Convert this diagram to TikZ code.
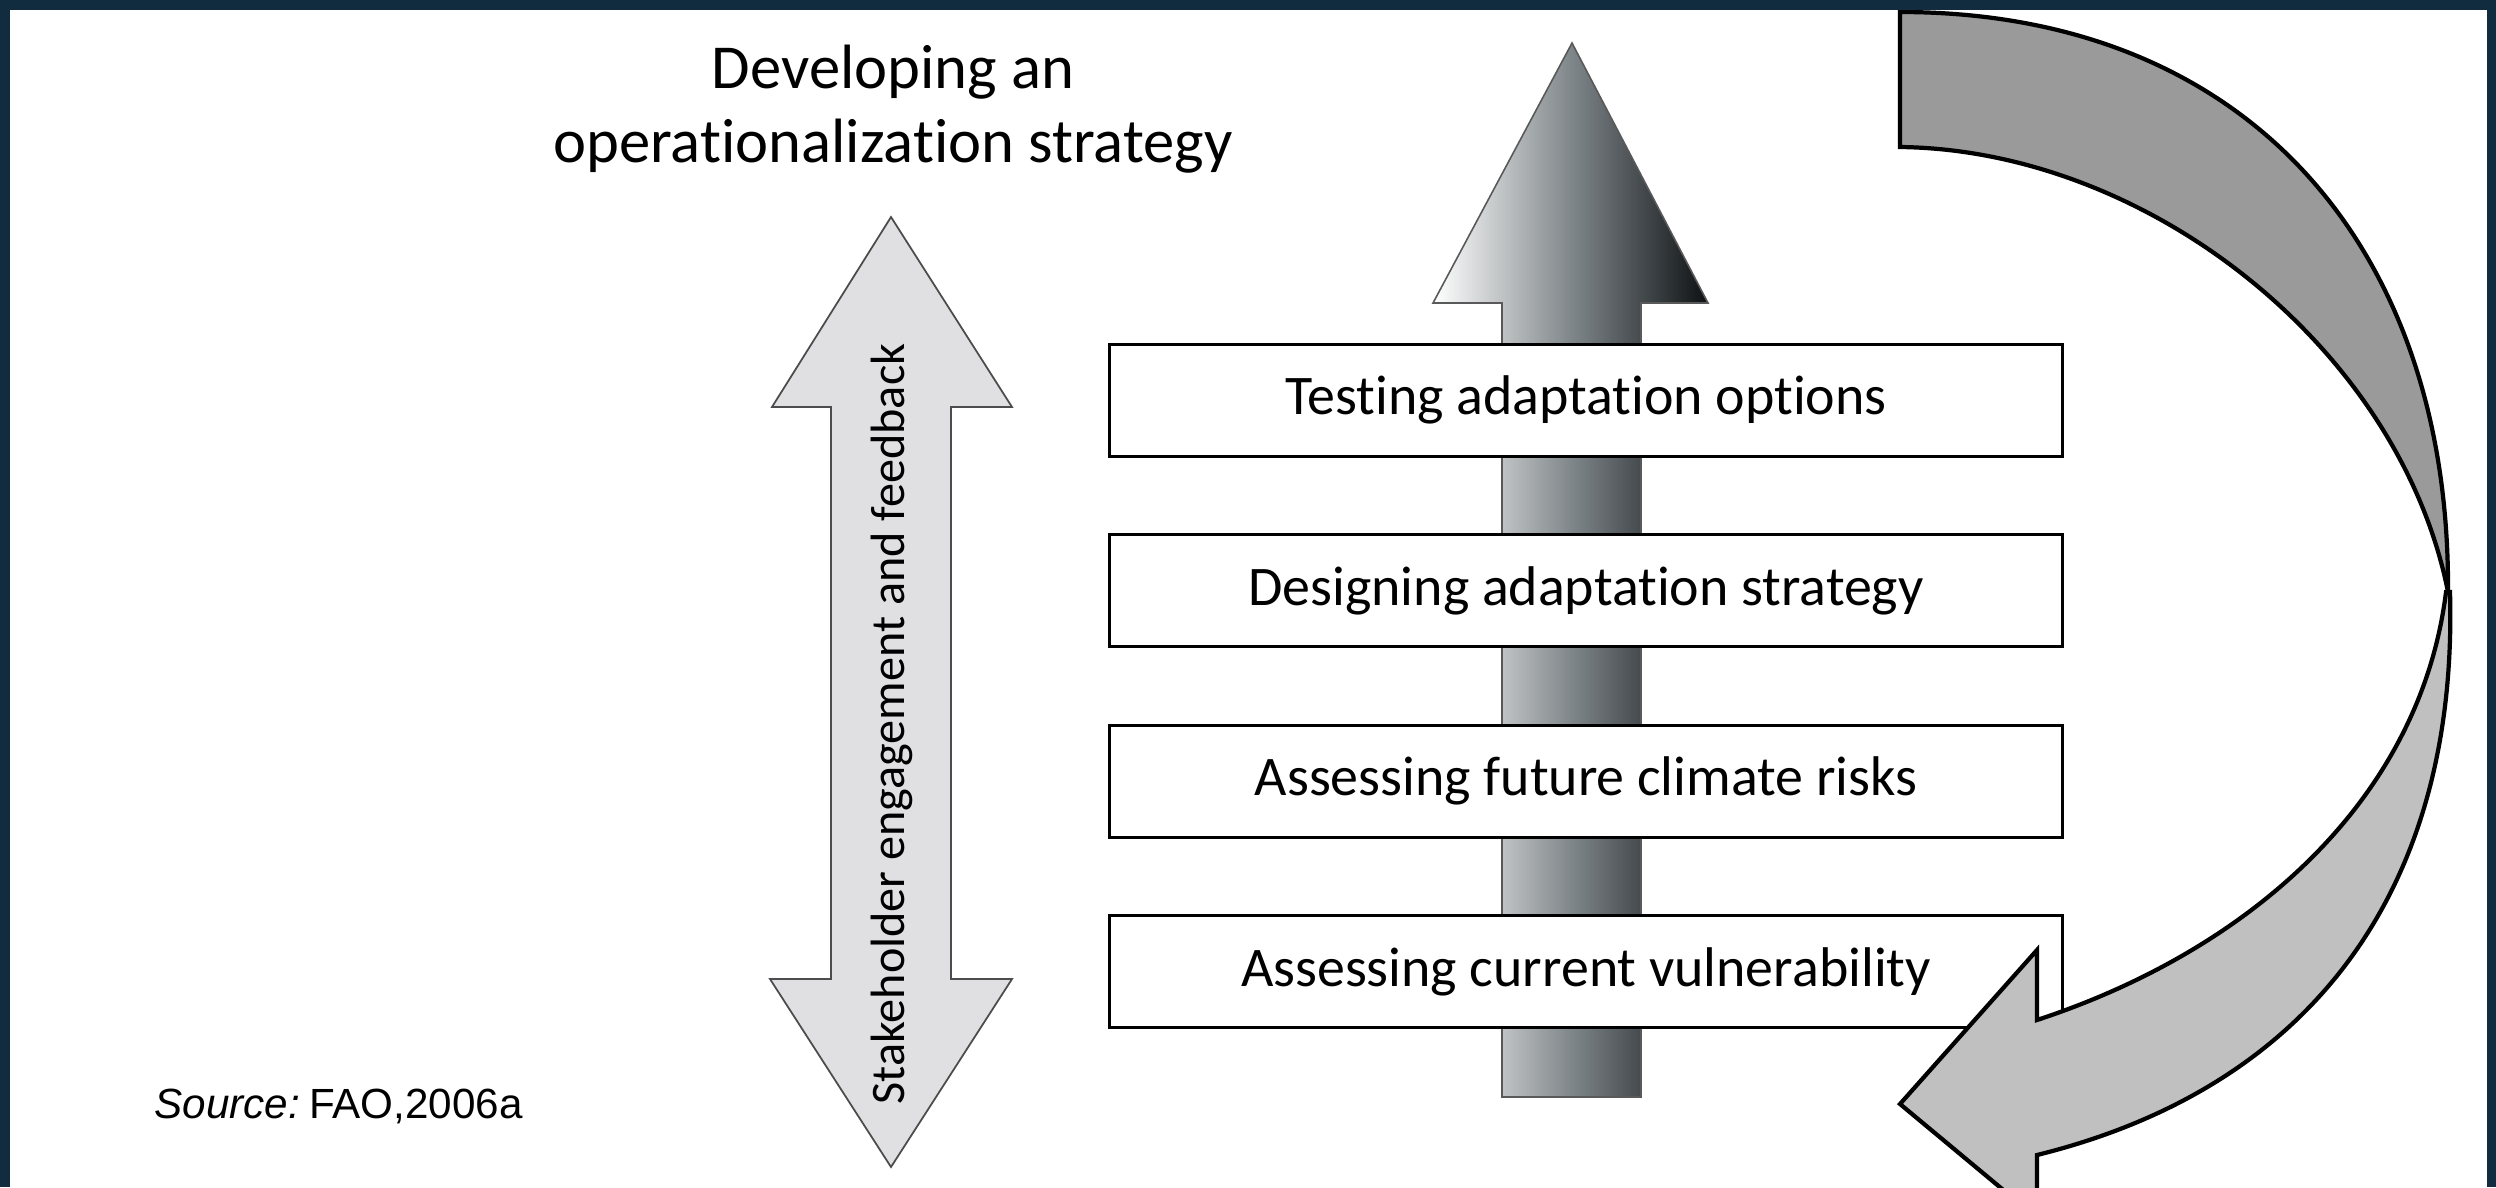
\documentclass[tikz,border=0pt]{standalone}
\usepackage{fontspec}
\setmainfont[Ligatures=NoCommon]{Carlito}
\newfontfamily\srcfont{Liberation Sans}
\usepackage{tikz}
\usetikzlibrary{matrix}
\usetikzlibrary{positioning}

\definecolor{framecol}{HTML}{112B3F}
\definecolor{bandtop}{HTML}{9A9A9A}
\definecolor{bandlow}{HTML}{C0C0C0}
\definecolor{twoway}{HTML}{E0DFE1}
\definecolor{upmid}{HTML}{80878A}
\definecolor{upright}{HTML}{0D1114}

\begin{document}
\begin{tikzpicture}[x=0.01cm,y=-0.01cm,
    stepbox/.style={draw,line width=0.95pt,fill=white,inner sep=0pt,
      minimum width=9.53cm,minimum height=1.12cm,
      font=\fontsize{15.9}{18}\selectfont},
    band/.style={draw,line width=1.2pt,line join=miter}]

  \useasboundingbox (0,0) rectangle (2496,1187);
  \clip (0,0) rectangle (2496,1187);
  \fill [white] (0,0) rectangle (2496,1187);

  \shadedraw [left color=white,right color=upright,middle color=upmid,
    draw=black!65,line width=0.45pt]
    (1572,43) -- (1708,303) -- (1641,303) -- (1641,1097) -- (1502,1097)
    -- (1502,303) -- (1433,303) -- cycle;

  \matrix (steps) [matrix of nodes,row sep=0.75cm,nodes={stepbox},
    ampersand replacement=\&] at (1586,686) {
    |(test)| Testing adaptation options \\
    |(design)| Designing adaptation strategy \\
    |(future)| Assessing future climate risks \\
    |(current)| Assessing current vulnerability \\
  };

  \filldraw [band,fill=bandtop]
    (1900,12) .. controls (2250,12) and (2450,250) .. (2448,592)
    .. controls (2400,350) and (2150,150) .. (1900,147) -- cycle;
  \filldraw [band,fill=bandlow]
    (2446,592) .. controls (2420,800) and (2250,950) .. (2037,1020)
    -- (2037,950) -- (1900,1104) -- (2037,1218) -- (2037,1155)
    .. controls (2320,1085) and (2458,880) .. (2450,592) -- cycle;

  \filldraw [fill=twoway,draw=black!70,line width=0.5pt]
    (891,217) -- (1012,407) -- (951,407) -- (951,979) -- (1012,979)
    -- (891,1167) -- (770,979) -- (831,979) -- (831,407) -- (772,407) -- cycle;
  \node [rotate=90,font=\fontsize{13.7}{16}\selectfont] (feedback) at (892,724)
    {Stakeholder engagement and feedback};

  \node [align=center,anchor=base,font=\fontsize{17.8}{20.8}\selectfont] (title)
    at (893,162) {Developing an\\operationalization strategy};

  \node [anchor=base west,font=\srcfont\fontsize{12}{14}\selectfont] (source)
    at (142,1118) {{\itshape Source:}\hspace{-0.15em} FAO,2006a};

  \fill [framecol] (0,0) rectangle (10,1187);
  \fill [framecol] (0,0) rectangle (2496,10);
  \fill [framecol] (2487,0) rectangle (2496,1187);

\end{tikzpicture}
\end{document}
